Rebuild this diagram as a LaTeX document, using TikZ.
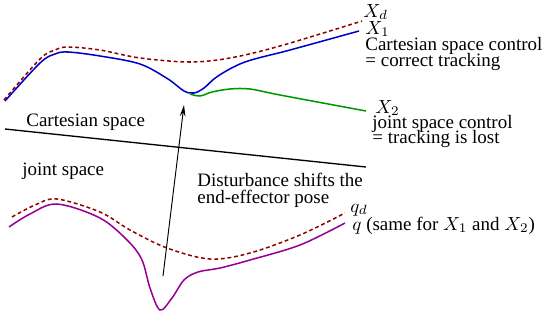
\documentclass[tikz,border=0pt]{standalone}
\usepackage{fontspec}
\setmainfont{Liberation Serif}
\usepackage{tikz}
\usetikzlibrary{
	arrows.meta,
	positioning,
	calc
}
\definecolor{xred}{RGB}{144,0,0}
\definecolor{xblue}{RGB}{0,0,200}
\definecolor{xgreen}{RGB}{0,150,0}
\definecolor{xpurple}{RGB}{150,0,150}

\begin{document}
\begin{tikzpicture}[
				x=0.527pt, y=-0.527pt,
				lbl/.style={
					anchor=base west, inner sep=0pt, font=\normalsize
				},
				desired/.style={
					xred, line width=0.8pt, dash pattern=on 2pt off 1.5pt
				},
				actual/.style={
					line width=0.8pt, smooth, tension=0.55
				},
				arrow/.style={-{Stealth[length=6pt,width=3pt]}, line width=0.5pt},
				]
				\useasboundingbox (0,0) rectangle (549,320);
				
				%cartesian curves
				\draw[desired] plot[smooth, tension=0.55] coordinates {(4,100) (40,59) (55,50) (68,47) (100,50) (140,58) (190,62) (230,58) (280,46) (362,21)};
				\draw[actual, xblue] plot coordinates {(5,101) (40,63) (55,54) (68,52) (100,56) (140,64) (168,79) (184,91) (194,93) (204,88) (218,76) (245,62) (290,50) (359,31)};
				\draw[actual, xgreen] plot coordinates {(190,94) (200,96) (212,92) (230,89) (250,89) (280,95) (366,111)};
				
				\node[lbl] (xd) at (363,17) {$X_d$};
				\node[lbl] (xone) at (365,34) {$X_1$};
				\node[lbl] (cartA) at (365,50) {Cartesian space control};
				\node[lbl] (cartB) at (365,66) {= correct tracking};
				\node[lbl] (xtwo) at (375,113) {$X_2$};
				\node[lbl] (jointA) at (372,128) {joint space control};
				\node[lbl] (jointB) at (372,143) {= tracking is lost};
				
				%separation
				\coordinate (sepL) at (5,129);
				\coordinate (sepR) at (366,167);
				\draw[line width=0.7pt] (sepL) -- (sepR);
				\node[lbl] (cartspace) at (26,126) {Cartesian space};
				\node[lbl] (jointspace) at (22,175) {joint space};
				
				%joint curves
				\draw[desired] plot[smooth, tension=0.55] coordinates {(12,217) (35,205) (57,199) (100,212) (130,230) (167,248) (210,259) (250,253) (300,235) (345,213)};
				\draw[actual, xpurple] plot coordinates {(9,227) (30,214) (57,204) (100,218) (128,241) (142,260) (150,288) (160,310) (172,298) (184,280) (198,272) (220,268) (250,260) (300,245) (345,223)};
				
				\node[lbl] (qd) at (350,212) {$q_d$};
				\node[lbl] (q) at (352,230) {$q$ (same for $X_1$ and $X_2$)};
				
				%disturbance
				\coordinate (distS) at (163,276);
				\coordinate (distE) at (184,105);
				\draw[arrow] (distS) -- (distE);
				\node[lbl] (distA) at (197,186) {Disturbance shifts the};
				\node[lbl] (distB) at (197,203) {end-effector pose};
			\end{tikzpicture}
\end{document}
